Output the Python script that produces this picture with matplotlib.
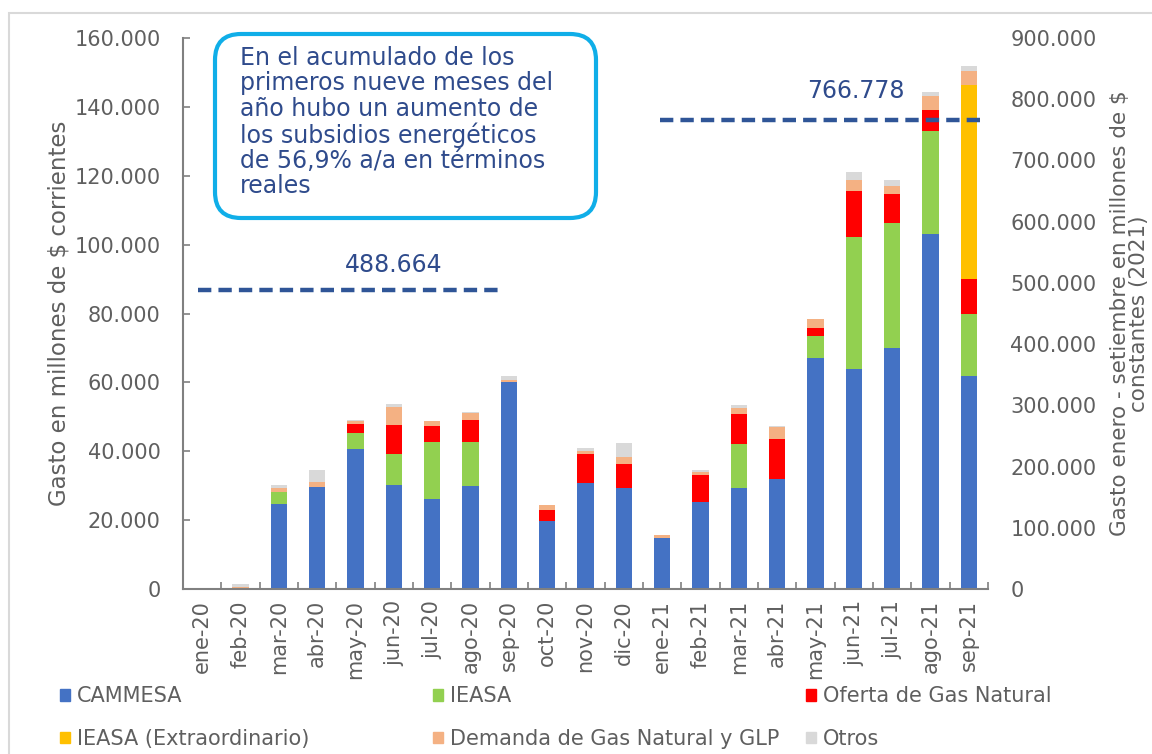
import matplotlib
matplotlib.use("Agg")
import matplotlib.pyplot as plt
import matplotlib.transforms as mtransforms
import numpy as np
from matplotlib.patches import FancyBboxPatch, Rectangle
from matplotlib.ticker import FuncFormatter, FixedLocator

plt.rcParams['font.family'] = ['DejaVu Sans']

months = ['ene-20', 'feb-20', 'mar-20', 'abr-20', 'may-20', 'jun-20', 'jul-20',
          'ago-20', 'sep-20', 'oct-20', 'nov-20', 'dic-20', 'ene-21', 'feb-21',
          'mar-21', 'abr-21', 'may-21', 'jun-21', 'jul-21', 'ago-21', 'sep-21']

# values in millions of current $
cammesa = [0, 0, 24700, 29500, 40600, 30100, 26200, 29800, 60000, 19800, 30800,
           29300, 14900, 25400, 29200, 31900, 67000, 64000, 69900, 103000, 61800]
ieasa = [0, 0, 3600, 0, 4600, 9100, 16400, 12900, 0, 0, 0,
         0, 0, 0, 13000, 0, 6400, 38100, 36500, 30100, 18100]
oferta = [0, 0, 0, 0, 2700, 8400, 4600, 6500, 0, 3200, 8400,
          6900, 0, 7800, 8500, 11800, 2400, 13600, 8400, 6000, 10100]
ieasa_extra = [0, 0, 0, 0, 0, 0, 0, 0, 0, 0, 0,
               0, 0, 0, 0, 0, 0, 0, 0, 0, 56300]
demanda = [0, 500, 1000, 1700, 800, 5300, 1500, 1900, 700, 1500, 1000,
           2200, 700, 700, 1800, 3300, 2600, 3200, 2100, 4100, 4100]
otros = [0, 1000, 800, 3400, 300, 800, 0, 400, 1200, 0, 800,
         4000, 0, 800, 1000, 400, 0, 2300, 1900, 1200, 1500]

series_names = ['CAMMESA', 'IEASA', 'Oferta de Gas Natural',
                'IEASA (Extraordinario)', 'Demanda de Gas Natural y GLP', 'Otros']
series_values = [cammesa, ieasa, oferta, ieasa_extra, demanda, otros]
series_colors = ['#4472C4', '#92D050', '#FF0000', '#FFC000', '#F4B183', '#D9D9D9']

# cumulative totals (constant 2021 $) Jan-Sep
acum_2020 = 488664
acum_2021 = 766778

left_ticks = [0, 20000, 40000, 60000, 80000, 100000, 120000, 140000, 160000]
right_ticks = [0, 100000, 200000, 300000, 400000, 500000, 600000, 700000, 800000, 900000]

def fmt_thousands(v, pos=None):
    return f"{int(round(v)):,}".replace(",", ".")

grey = '#5F5F5F'
navy = '#2F4B8C'

W, H = 1152, 754
fig = plt.figure(figsize=(W / 100, H / 100), dpi=100)
ax = fig.add_axes([183 / W, 1 - 589 / H, (988 - 183) / W, (589 - 38) / H])

x = np.arange(len(months))
bottom = np.zeros(len(months))
for name, vals, col in zip(series_names, series_values, series_colors):
    v = np.array(vals, dtype=float)
    ax.bar(x, v, bottom=bottom, width=0.42, color=col, label=name, zorder=2)
    bottom += v

ax.set_xlim(-0.5, len(months) - 0.5)
ax.set_ylim(0, 160000)
ax.set_yticks(left_ticks)
ax.yaxis.set_major_formatter(FuncFormatter(fmt_thousands))
ax.set_xticks(x)
ax.set_xticklabels(months, rotation=90)
ax.xaxis.set_minor_locator(FixedLocator(np.arange(-0.5, len(months), 1.0)))
ax.tick_params(axis='x', which='major', length=0, pad=8, labelsize=15, labelcolor=grey)
ax.tick_params(axis='x', which='minor', length=5, direction='in', color='#808080', width=1.2)
ax.tick_params(axis='y', length=5, direction='in', color='#808080', width=1.2,
               labelsize=15, labelcolor=grey, pad=16)
for s in ['top', 'right']:
    ax.spines[s].set_visible(False)
for s in ['left', 'bottom']:
    ax.spines[s].set_color('#808080')
    ax.spines[s].set_linewidth(1.5)
ax.set_ylabel('Gasto en millones de $ corrientes', fontsize=16.5, color=grey)
ax.yaxis.set_label_coords((71 - 183) / 805, 0.5)

ax2 = ax.twinx()
ax2.set_ylim(0, 900000)
ax2.set_yticks(right_ticks)
ax2.yaxis.set_major_formatter(FuncFormatter(fmt_thousands))
ax2.tick_params(axis='y', length=0, labelsize=15, labelcolor=grey, pad=16)
for s in ax2.spines.values():
    s.set_visible(False)
ax2.set_ylabel('Gasto enero - setiembre en millones de $\nconstantes (2021)',
               fontsize=15.5, color=grey, rotation=90, linespacing=0.92)
ax2.yaxis.set_label_coords((1110 - 183) / 805, 0.5)

# cumulative dashed lines (on right axis)
ax2.plot([-0.1, 7.85], [acum_2020, acum_2020], color='#2F5597', lw=3.2,
         linestyle=(0, (3, 1.6)), zorder=5)
ax2.plot([11.95, 20.45], [acum_2021, acum_2021], color='#2F5597', lw=3.2,
         linestyle=(0, (3, 1.6)), zorder=5)
ax2.text(5.0, 530000, fmt_thousands(acum_2020), ha='center', va='center',
         fontsize=17, color=navy)
ax2.text(17.05, 813000, fmt_thousands(acum_2021), ha='center', va='center',
         fontsize=17, color=navy)

# text box (pixel coordinates, y from bottom)
pix = mtransforms.IdentityTransform()
box = FancyBboxPatch((215, H - 218), 596 - 215, 218 - 34,
                     boxstyle="round,pad=0,rounding_size=26",
                     transform=pix, facecolor='white',
                     edgecolor='#10AEE8', linewidth=3.0, zorder=10)
fig.patches.append(box)
fig.text(240 / W, 1 - 46 / H,
         "En el acumulado de los\nprimeros nueve meses del\naño hubo un aumento de\n"
         "los subsidios energéticos\nde 56,9% a/a en términos\nreales",
         ha='left', va='top', fontsize=17, color=navy, linespacing=1.07,
         zorder=11)

# figure frame
frame = Rectangle((9 / W, -0.05), 1.2, 1 - 13 / H + 0.05, transform=fig.transFigure,
                  facecolor='none', edgecolor='#D9D9D9', linewidth=1.5)
fig.patches.append(frame)

# legend: three columns placed individually
handles = [Rectangle((0, 0), 1, 1, color=c) for c in series_colors]
col_x = [60 / W, 433 / W, 806 / W]
col_pairs = [(0, 3), (1, 4), (2, 5)]
for cx, (a, b) in zip(col_x, col_pairs):
    leg = fig.legend([handles[a], handles[b]], [series_names[a], series_names[b]],
                     loc='upper left', bbox_to_anchor=(cx, 1 - 686 / H),
                     frameon=False, fontsize=15, handlelength=0.5, handleheight=0.5,
                     handletextpad=0.3, labelspacing=1.1, borderaxespad=0,
                     borderpad=0)
    for t in leg.get_texts():
        t.set_color(grey)

fig.savefig('out.png', dpi=100)
